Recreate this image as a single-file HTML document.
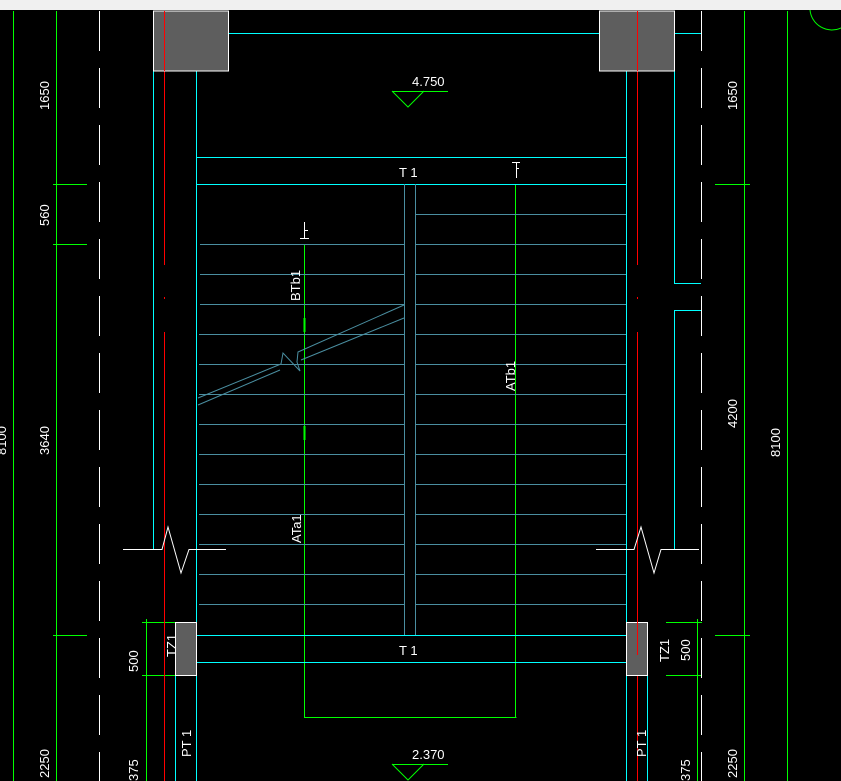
<!DOCTYPE html>
<html><head><meta charset="utf-8"><style>
html,body{margin:0;padding:0;background:#000;width:841px;height:781px;overflow:hidden}
svg{display:block}
text{font-family:"Liberation Sans",sans-serif;fill:#fff;font-size:13px}
</style></head><body>
<svg width="841" height="781" viewBox="0 0 841 781" xmlns="http://www.w3.org/2000/svg" shape-rendering="crispEdges">
<rect x="0" y="0" width="841" height="781" fill="#000"/>
<rect x="0" y="0" width="841" height="10" fill="#f0f0f0"/>
<g stroke="#00ff00" stroke-width="1" fill="none">
<line x1="13.5" y1="11" x2="13.5" y2="781"/>
<line x1="56.5" y1="11" x2="56.5" y2="781"/>
<line x1="744.5" y1="11" x2="744.5" y2="781"/>
<line x1="787.5" y1="11" x2="787.5" y2="781"/>
<line x1="53" y1="184.5" x2="87" y2="184.5"/>
<line x1="53" y1="244.5" x2="87" y2="244.5"/>
<line x1="53" y1="635.5" x2="87" y2="635.5"/>
<line x1="715" y1="184.5" x2="750" y2="184.5"/>
<line x1="715" y1="635.5" x2="750" y2="635.5"/>
<line x1="146.5" y1="619" x2="146.5" y2="781"/>
<line x1="142" y1="622.5" x2="196" y2="622.5"/>
<line x1="142" y1="675.5" x2="196" y2="675.5"/>
<line x1="697.5" y1="619" x2="697.5" y2="781"/>
<line x1="666" y1="622.5" x2="702" y2="622.5"/>
<line x1="666" y1="675.5" x2="702" y2="675.5"/>
<line x1="304.5" y1="244" x2="304.5" y2="717.5"/>
<line x1="304" y1="717.5" x2="516.5" y2="717.5"/>
<line x1="515.5" y1="184" x2="515.5" y2="717.5"/>
<line x1="392" y1="91.5" x2="448" y2="91.5"/>
<polyline points="392,91 408,107 424,91" shape-rendering="auto"/>
<line x1="392" y1="764.5" x2="448" y2="764.5"/>
<polyline points="392,764 408,780 424,764" shape-rendering="auto"/>
<path d="M 810 10 A 22 22 0 0 0 841 28" shape-rendering="auto"/>
</g>
<g stroke="#00ff00" stroke-width="2"><line x1="304.5" y1="318" x2="304.5" y2="332"/><line x1="304.5" y1="426" x2="304.5" y2="440"/></g>
<g stroke="#fff" stroke-width="1" stroke-dasharray="40,17">
<line x1="99.5" y1="11" x2="99.5" y2="781"/>
<line x1="701.5" y1="11" x2="701.5" y2="781"/>
</g>
<g stroke="#00ffff" stroke-width="1" fill="none">
<line x1="229" y1="33.5" x2="599" y2="33.5"/>
<line x1="674" y1="33.5" x2="701" y2="33.5"/>
<line x1="153.5" y1="71" x2="153.5" y2="549"/>
<line x1="196.5" y1="71" x2="196.5" y2="781"/>
<line x1="626.5" y1="71" x2="626.5" y2="781"/>
<polyline points="674.5,71 674.5,283.5 701,283.5"/>
<polyline points="701,310.5 674.5,310.5 674.5,549"/>
<line x1="196" y1="157.5" x2="626" y2="157.5"/>
<line x1="196" y1="184.5" x2="626" y2="184.5"/>
<line x1="196" y1="635.5" x2="626" y2="635.5"/>
<line x1="196" y1="662.5" x2="626" y2="662.5"/>
<line x1="175.5" y1="675" x2="175.5" y2="781"/>
<line x1="647.5" y1="675" x2="647.5" y2="781"/>
</g>
<g stroke="#ff0000" stroke-width="1">
<line x1="164.5" y1="11" x2="164.5" y2="265"/><line x1="164.5" y1="297" x2="164.5" y2="299"/><line x1="164.5" y1="332" x2="164.5" y2="781"/>
<line x1="637.5" y1="11" x2="637.5" y2="265"/><line x1="637.5" y1="297" x2="637.5" y2="299"/><line x1="637.5" y1="332" x2="637.5" y2="781"/>
</g>
<g stroke="#4a8ea0" stroke-width="1" fill="none">
<line x1="404.5" y1="184" x2="404.5" y2="635"/>
<line x1="415.5" y1="184" x2="415.5" y2="635"/>
<line x1="415" y1="214.5" x2="626" y2="214.5"/>
<line x1="200" y1="244.5" x2="404" y2="244.5"/><line x1="415" y1="244.5" x2="626" y2="244.5"/>
<line x1="200" y1="274.5" x2="404" y2="274.5"/><line x1="415" y1="274.5" x2="626" y2="274.5"/>
<line x1="200" y1="304.5" x2="404" y2="304.5"/><line x1="415" y1="304.5" x2="626" y2="304.5"/>
<line x1="199" y1="334.5" x2="404" y2="334.5"/><line x1="415" y1="334.5" x2="626" y2="334.5"/>
<line x1="199" y1="364.5" x2="404" y2="364.5"/><line x1="415" y1="364.5" x2="626" y2="364.5"/>
<line x1="199" y1="394.5" x2="404" y2="394.5"/><line x1="415" y1="394.5" x2="626" y2="394.5"/>
<line x1="199" y1="424.5" x2="404" y2="424.5"/><line x1="415" y1="424.5" x2="626" y2="424.5"/>
<line x1="199" y1="454.5" x2="404" y2="454.5"/><line x1="415" y1="454.5" x2="626" y2="454.5"/>
<line x1="199" y1="484.5" x2="404" y2="484.5"/><line x1="415" y1="484.5" x2="626" y2="484.5"/>
<line x1="199" y1="514.5" x2="404" y2="514.5"/><line x1="415" y1="514.5" x2="626" y2="514.5"/>
<line x1="199" y1="544.5" x2="404" y2="544.5"/><line x1="415" y1="544.5" x2="626" y2="544.5"/>
<line x1="199" y1="574.5" x2="404" y2="574.5"/><line x1="415" y1="574.5" x2="626" y2="574.5"/>
<line x1="199" y1="604.5" x2="404" y2="604.5"/><line x1="415" y1="604.5" x2="626" y2="604.5"/>
<g shape-rendering="auto">
<polyline points="404,305 298,352 297,362 300,371 283,353 281,364 198,398"/>
<polyline points="404,318 301,360"/>
<polyline points="280,370 198,405"/>
</g>
</g>
<rect x="153.5" y="11" width="75" height="60" fill="#5e5e5e" stroke="#fff"/>
<rect x="599.5" y="11" width="75" height="60" fill="#5e5e5e" stroke="#fff"/>
<rect x="175.5" y="622.5" width="21" height="53" fill="#5e5e5e" stroke="#fff"/>
<rect x="626.5" y="622.5" width="21" height="53" fill="#5e5e5e" stroke="#fff"/>
<line x1="164.5" y1="11" x2="164.5" y2="71" stroke="#ff0000"/>
<line x1="637.5" y1="11" x2="637.5" y2="71" stroke="#ff0000"/>
<line x1="637.5" y1="622" x2="637.5" y2="655" stroke="#ff0000"/>
<g stroke="#fff" stroke-width="1" fill="none">
<polyline shape-rendering="auto" points="123,549.5 162,549.5 168,527 181,573 189,549.5 226,549.5"/>
<polyline shape-rendering="auto" points="596,549.5 634,549.5 641,527 654,573 661,549.5 699,549.5"/>
<path d="M304.5,222 V238 M300,238.5 H309 M304,230.5 H308"/>
<path d="M512,162.5 H520 M516.5,162 V178 M516,168.5 H519"/>
</g>
<text x="399" y="177">T 1</text>
<text x="399" y="655">T 1</text>
<text x="412" y="86" font-size="11">4.750</text>
<text x="412" y="759" font-size="11">2.370</text>
<g font-size="12">
<text transform="translate(49,110) rotate(-90)">1650</text>
<text transform="translate(49,226) rotate(-90)">560</text>
<text transform="translate(49,455) rotate(-90)">3640</text>
<text transform="translate(6,455) rotate(-90)">8100</text>
<text transform="translate(49,778) rotate(-90)">2250</text>
<text transform="translate(138,672) rotate(-90)">500</text>
<text transform="translate(176,657) rotate(-90)">TZ1</text>
<text transform="translate(191,757) rotate(-90)">PT 1</text>
<text transform="translate(138,781) rotate(-90)">375</text>
<text transform="translate(300,301) rotate(-90)">BTb1</text>
<text transform="translate(301,543) rotate(-90)">ATa1</text>
<text transform="translate(515,391) rotate(-90)">ATb1</text>
<text transform="translate(737,110) rotate(-90)">1650</text>
<text transform="translate(737,428) rotate(-90)">4200</text>
<text transform="translate(780,457) rotate(-90)">8100</text>
<text transform="translate(737,778) rotate(-90)">2250</text>
<text transform="translate(669,662) rotate(-90)">TZ1</text>
<text transform="translate(690,661) rotate(-90)">500</text>
<text transform="translate(646,757) rotate(-90)">PT 1</text>
<text transform="translate(690,781) rotate(-90)">375</text>
</g>
</svg>
</body></html>
